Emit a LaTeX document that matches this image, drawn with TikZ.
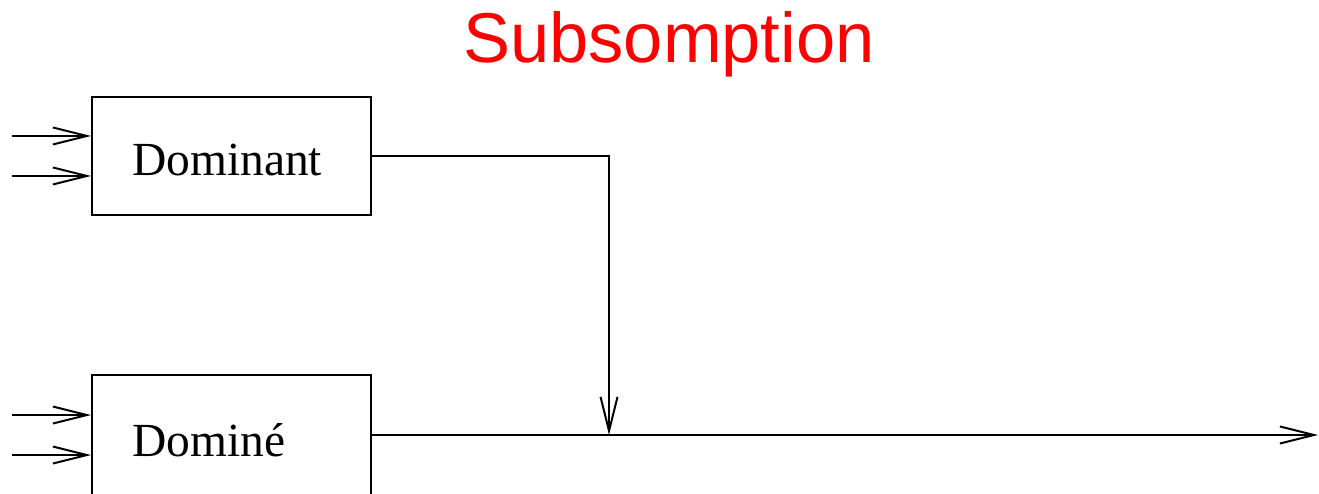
\documentclass[tikz,border=0pt]{standalone}
\usepackage{fontspec}
\setmainfont{Liberation Serif}
\newfontfamily\titlefont{Liberation Sans}
\usetikzlibrary{arrows.meta}
\definecolor{titlered}{RGB}{255,0,0}
\begin{document}
\begin{tikzpicture}[x=1pt,y=-1pt,
  blockbox/.style={draw,line width=2pt,minimum width=279pt,minimum height=118pt,inner sep=0pt},
  lbl/.style={font=\fontsize{47.5}{50}\selectfont,anchor=base west,inner sep=0pt},
  conn/.style={line width=2pt,-{Straight Barb[length=34pt,width=17pt,line width=2pt]}},
  plain/.style={line width=2pt}]
\useasboundingbox (0,0) rectangle (1319,494);
\clip (0,0) rectangle (1319,494);
\node[font=\titlefont\fontsize{70.5}{75}\selectfont,text=titlered,anchor=base west,inner sep=0pt] (title) at (463,63) {Subsomption};
\node[blockbox] (dom) at (231.5,156) {};
\node[lbl] (domt) at (132,176) {Dominant};
\node[draw,line width=2pt,minimum width=279pt,minimum height=130pt,inner sep=0pt] (sub) at (231.5,440) {};
\node[lbl] (subt) at (132.5,456) {Dominé};
\coordinate (a1) at (12,136);
\coordinate (a2) at (12,176);
\coordinate (a3) at (12,415);
\coordinate (a4) at (12,455);
\coordinate (j) at (609,435);
\coordinate (out) at (1318,435);
\draw[conn] (a1) -- (a1 -| dom.west);
\draw[conn] (a2) -- (a2 -| dom.west);
\draw[conn] (a3) -- (a3 -| sub.west);
\draw[conn] (a4) -- (a4 -| sub.west);
\draw[conn] (dom.east) -| (j);
\draw[conn] (j -| sub.east) -- (out);
\end{tikzpicture}
\end{document}
